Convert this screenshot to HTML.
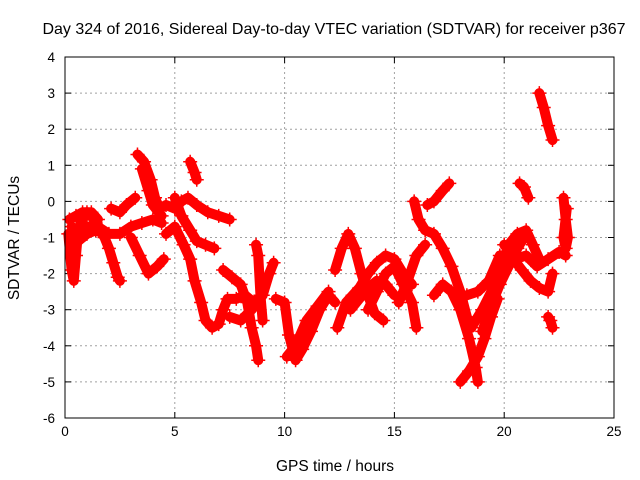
<!DOCTYPE html>
<html><head><meta charset="utf-8"><style>
html,body{margin:0;padding:0;background:#fff;}
svg{display:block;font-family:"Liberation Sans",sans-serif;}
</style></head><body>
<svg id="chart" width="640" height="480" xmlns="http://www.w3.org/2000/svg"></svg>
<script>
const xTicks = [0,5,10,15,20,25];
const yTicks = [-6,-5,-4,-3,-2,-1,0,1,2,3,4];
const track1 = [[0.15,-0.9],[0.3,-1.9],[0.4,-2.2],[0.5,-1.5],[0.6,-0.8],[0.8,-0.5],[1.0,-0.3],[1.2,-0.4],[1.4,-0.6],[1.6,-0.8],[1.8,-1.0],[2.0,-1.3],[2.2,-1.7],[2.4,-2.1],[2.5,-2.2]];
const track2 = [[0.3,-0.7],[0.5,-0.8],[1.0,-0.7],[1.5,-0.7],[2.0,-0.9],[2.5,-0.9],[3.0,-0.7],[3.5,-0.6],[4.0,-0.5],[4.4,-0.6]];
const track3 = [[2.1,-0.2],[2.5,-0.3],[2.8,-0.1],[3.2,0.1]];
const track4 = [[3.3,1.3],[3.6,1.1],[3.9,0.6],[4.1,0.1],[4.3,-0.2],[4.6,-0.1],[5.0,-0.2],[5.3,0],[5.6,0.1],[6.0,-0.1],[6.5,-0.3],[7.0,-0.4],[7.5,-0.5]];
const track5 = [[4.6,-0.9],[5.0,-0.7],[5.4,-1.2],[5.7,-1.6],[5.9,-2.2],[6.2,-2.8],[6.4,-3.3],[6.7,-3.5],[7.0,-3.4],[7.2,-3.0],[7.4,-2.7],[7.8,-2.7],[8.2,-2.6],[8.6,-2.8],[9.0,-2.6]];
const track6 = [[5.0,0.1],[5.3,-0.4],[5.7,-0.8],[6.0,-1.1],[6.4,-1.2],[6.8,-1.3]];
const track7 = [[3.0,-1.0],[3.4,-1.5],[3.8,-2.0],[4.2,-1.8],[4.5,-1.6]];
const track8 = [[5.7,1.1],[5.9,0.8],[6.0,0.6]];
const track9 = [[7.2,-1.9],[7.6,-2.1],[8.0,-2.3],[8.3,-2.8],[8.5,-3.5],[8.7,-4.0],[8.8,-4.4]];
const track10 = [[7.5,-3.2],[8.0,-3.3],[8.5,-3.0],[9.0,-2.6],[9.3,-2.0],[9.5,-1.7]];
const track11 = [[8.7,-1.2],[8.8,-1.5],[8.9,-2.6],[9.0,-3.3]];
const track12 = [[9.6,-2.7],[10.0,-2.8],[10.2,-3.7],[10.5,-4.4],[10.8,-4.1],[11.2,-3.6],[11.6,-3.0],[12.0,-2.6],[12.3,-2.8]];
const track13 = [[10.1,-4.3],[10.5,-4.0],[11.0,-3.3],[11.5,-2.9],[12.0,-2.5]];
const track14 = [[12.3,-1.9],[12.6,-1.3],[12.9,-0.9],[13.2,-1.3],[13.5,-2.0],[13.8,-2.6],[14.1,-3.1],[14.5,-3.3]];
const track15 = [[12.4,-3.5],[12.8,-2.8],[13.1,-2.6],[13.4,-2.4],[13.8,-2.0],[14.2,-1.7],[14.6,-1.5],[15.0,-1.6],[15.4,-2.0],[15.8,-2.3]];
const track16 = [[13.8,-3.0],[14.2,-2.5],[14.6,-2.0],[15.0,-1.8],[15.4,-2.3],[15.8,-2.8],[16.0,-3.5]];
const track17 = [[15.2,-2.8],[15.6,-2.2],[16.0,-1.5],[16.4,-1.2]];
const track18 = [[15.9,0.0],[16.1,-0.5],[16.4,-0.8],[16.8,-0.9],[17.2,-1.3],[17.6,-1.8],[18.0,-2.5],[18.3,-3.2],[18.5,-3.5]];
const track19 = [[16.5,-0.1],[16.8,0],[17.2,0.3],[17.5,0.5]];
const track20 = [[16.8,-2.6],[17.2,-2.3],[17.6,-2.5],[18.0,-3.0],[18.4,-3.8],[18.7,-4.6],[18.8,-5.0]];
const track21 = [[18.0,-5.0],[18.4,-4.7],[18.8,-4.3],[19.1,-3.8],[19.4,-3.2],[19.7,-2.7]];
const track22 = [[18.5,-3.5],[19.0,-3.0],[19.5,-2.4],[19.9,-1.8],[20.2,-1.2],[20.6,-0.9],[21.0,-0.8],[21.3,-1.2],[21.6,-1.6]];
const track23 = [[18.3,-2.6],[18.8,-2.5],[19.3,-2.2],[19.8,-1.5],[20.3,-1.5],[20.8,-1.9],[21.2,-2.2],[21.6,-2.4],[22.0,-2.5],[22.2,-2.0]];
const track24 = [[20.7,0.5],[20.9,0.4],[21.1,0.1]];
const track25 = [[21.6,3.0],[21.8,2.6],[22.0,2.1],[22.2,1.7]];
const track26 = [[22.0,-3.2],[22.1,-3.3],[22.2,-3.5]];
const track27 = [[22.7,0.1],[22.8,-0.5],[22.9,-1.0],[22.8,-1.3],[22.7,-1.0],[22.85,-0.2]];
const track28 = [[20.0,-1.2],[20.5,-1.6],[21.0,-1.5],[21.5,-1.8],[22.0,-1.6],[22.5,-1.4],[22.8,-1.5]];
const track29 = [[0.2,-0.5],[0.5,-0.4],[0.8,-0.3],[1.2,-0.3],[1.5,-0.5]];
const track30 = [[0.3,-1.3],[0.6,-1.1],[1.0,-0.9],[1.4,-0.8],[1.8,-0.9]];
const track31 = [[3.5,0.9],[3.8,0.3],[4.0,-0.1],[4.4,-0.4]];
const track32 = [[13.0,-3.0],[13.4,-2.7],[13.8,-2.4],[14.2,-2.2],[14.6,-2.3],[15.0,-2.6]];
const track33 = [[19.0,-3.6],[19.4,-2.9],[19.8,-2.3],[20.2,-1.8],[20.6,-1.3],[20.9,-1.0]];
const tracks = [track1,track2,track3,track4,track5,track6,track7,track8,track9,track10,track11,track12,track13,track14,track15,track16,track17,track18,track19,track20,track21,track22,track23,track24,track25,track26,track27,track28,track29,track30,track31,track32,track33];

const NS = "http://www.w3.org/2000/svg";
const svg = document.getElementById('chart');
const L=65,R=614,T=57,B=418;
const xMin=0,xMax=25,yMin=-6,yMax=4;
function sx(v){return L+(v-xMin)/(xMax-xMin)*(R-L);}
function sy(v){return B-(v-yMin)/(yMax-yMin)*(B-T);}
function mk(tag,attrs,parent){const e=document.createElementNS(NS,tag);for(const k in attrs)e.setAttribute(k,attrs[k]);(parent||svg).appendChild(e);return e;}

const grid = mk('g',{});


xTicks.forEach(t=>{
  const x=sx(t);
  if(t>xMin&&t<xMax){const g=mk('line',{x1:x,y1:T,x2:x,y2:B,stroke:'#a0a0a0','stroke-dasharray':'2,3'},grid);
  
  }
  const tk=mk('line',{x1:x,y1:B,x2:x,y2:B-6,stroke:'#000'});
  
  
  mk('line',{x1:x,y1:T,x2:x,y2:T+6,stroke:'#000'});
  const lb=mk('text',{x:x,y:B+18,'text-anchor':'middle','font-size':13.5,fill:'#000'});
  lb.textContent=t;
  
  
});
yTicks.forEach(t=>{
  const y=sy(t);
  if(t>yMin&&t<yMax){const g=mk('line',{x1:L,y1:y,x2:R,y2:y,stroke:'#a0a0a0','stroke-dasharray':'2,3'},grid);
  
  }
  const tk=mk('line',{x1:L,y1:y,x2:L+6,y2:y,stroke:'#000'});
  
  
  mk('line',{x1:R,y1:y,x2:R-6,y2:y,stroke:'#000'});
  const lb=mk('text',{x:L-10,y:y+5,'text-anchor':'end','font-size':13.5,fill:'#000'});
  lb.textContent=t;
  
  
});

const series = mk('g',{});


tracks.forEach(tr=>{
  const pts=tr.map(p=>sx(p[0])+','+sy(p[1])).join(' ');
  const pl=mk('polyline',{points:pts,fill:'none',stroke:'#ff0000','stroke-width':10,'stroke-linejoin':'round','stroke-linecap':'round'},series);
  
  
  tr.forEach(p=>{
    const x=sx(p[0]),y=sy(p[1]);
    const m=mk('path',{d:`M${x-7},${y}H${x+7}M${x},${y-7}V${y+7}`,stroke:'#ff0000','stroke-width':1.5},series);
    
    
  });
});

const frame=mk('rect',{x:L,y:T,width:R-L,height:B-T,fill:'none',stroke:'#000'});



const title=mk('text',{x:334,y:34,'text-anchor':'middle','font-size':16,fill:'#000'});
title.textContent='Day 324 of 2016, Sidereal Day-to-day VTEC variation (SDTVAR) for receiver p367';


const xt=mk('text',{x:335,y:471,'text-anchor':'middle','font-size':15.5,fill:'#000'});
xt.textContent='GPS time / hours';


const yt=mk('text',{x:0,y:0,'text-anchor':'middle','font-size':15.5,fill:'#000',transform:'translate(19,238) rotate(-90)'});
yt.textContent='SDTVAR / TECUs';


</script>
</body></html>
